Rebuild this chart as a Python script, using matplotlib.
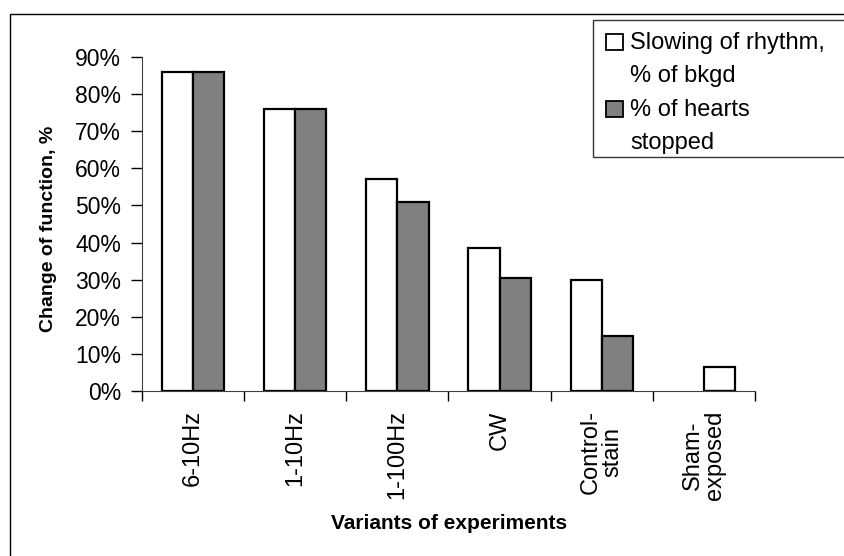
import numpy as np
import matplotlib.pyplot as plt
from matplotlib.patches import Rectangle

plt.rcParams['font.family'] = ['Liberation Sans', 'DejaVu Sans']

categories = ['6-10Hz', '1-10Hz', '1-100Hz', 'CW', 'Control-\nstain', 'Sham-\nexposed']
slowing = [0.86, 0.76, 0.57, 0.385, 0.30, 0.065]
stopped = [0.86, 0.76, 0.51, 0.305, 0.147, 0.0]
# the sham bar of the first series sits in the second slot in the original
slowing_slot = [0, 0, 0, 0, 0, 1]
yticks = [0, 0.1, 0.2, 0.3, 0.4, 0.5, 0.6, 0.7, 0.8, 0.9]
series_names = [['Slowing of rhythm,', '% of bkgd'], ['% of hearts', 'stopped']]
series_colors = ['white', '#808080']

W, H = 845, 556
fig = plt.figure(figsize=(W / 100, H / 100), dpi=100)
# outer chart border, cut off at right and bottom like the original
fig.patches.append(Rectangle((10 / W, -0.1), 1.0, 1 - 14 / H + 0.1,
                             transform=fig.transFigure, fill=False,
                             edgecolor='black', linewidth=1.0))

ax = fig.add_axes([142 / W, 1 - 391 / H, (755 - 142) / W, (391 - 57) / H])

x = np.arange(len(categories))
w = 0.305
xs_slow = x - w / 2 + np.array(slowing_slot) * w
ax.bar(xs_slow, slowing, w, color=series_colors[0], edgecolor='black', linewidth=1.6)
ax.bar(x + w / 2, stopped, w, color=series_colors[1], edgecolor='black', linewidth=1.6)

ax.set_xlim(-0.5, len(categories) - 0.5)
ax.set_ylim(0, 0.9)
ax.set_yticks(yticks)
ax.set_yticklabels(['%d%%' % round(v * 100) for v in yticks], fontsize=16.5)
ax.tick_params(axis='y', direction='out', length=8, width=1, pad=7)

ax.set_xticks(np.arange(len(categories) + 1) - 0.5)
ax.set_xticklabels([])
ax.tick_params(axis='x', direction='out', length=7, width=1)
for xi, lab in zip(x, categories):
    ax.text(xi, -0.052, lab, rotation=90, ha='center', va='top',
            multialignment='center', fontsize=17, linespacing=1.0)

for s in ['top', 'right']:
    ax.spines[s].set_visible(False)
ax.spines['left'].set_color('#404040')
ax.spines['bottom'].set_color('#404040')

ax.set_ylabel('Change of function, %', fontsize=14, fontweight='bold')
ax.yaxis.set_label_coords((57 - 142) / (755 - 142), (391 - 229) / (391 - 57))
fig.text(449 / W, 1 - 529 / H, 'Variants of experiments', fontsize=15,
         fontweight='bold', ha='center', va='baseline')

# legend box drawn the way the original lays it out
fig.patches.append(Rectangle((593 / W, 1 - 157 / H), 0.5, (157 - 20) / H,
                             transform=fig.transFigure, fill=True,
                             facecolor='white', edgecolor='#333333', linewidth=1.0))
entry_y = [49, 116]
line_step = 33
for lines, col, yb in zip(series_names, series_colors, entry_y):
    fig.patches.append(Rectangle((606 / W, 1 - (yb + 1) / H), 17 / W, 16 / H,
                                 transform=fig.transFigure, facecolor=col,
                                 edgecolor='black', linewidth=1.3))
    for k, line in enumerate(lines):
        fig.text(630 / W, 1 - (yb + k * line_step) / H, line, fontsize=17,
                 ha='left', va='baseline')

fig.savefig('out.png', dpi=100)
